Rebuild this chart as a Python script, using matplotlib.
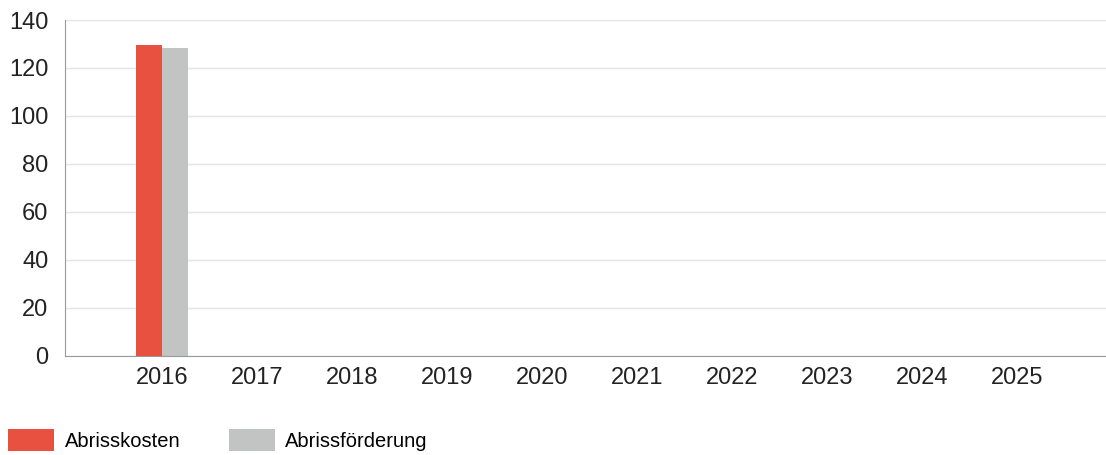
import matplotlib.pyplot as plt
import numpy as np
from matplotlib.patches import Patch

plt.rcParams['font.family'] = ['Liberation Sans', 'DejaVu Sans']

# Daten
jahre = ['2016', '2017', '2018', '2019', '2020', '2021', '2022', '2023', '2024', '2025']
abrisskosten = [129.5, 0, 0, 0, 0, 0, 0, 0, 0, 0]
abrissfoerderung = [128.5, 0, 0, 0, 0, 0, 0, 0, 0, 0]

rot = '#e8503f'
grau = '#c2c4c4'

fig = plt.figure(figsize=(11.06, 4.55), dpi=100)
ax = fig.add_axes([0.059, 0.218, 0.941, 0.738])

x = np.arange(len(jahre))
w = 0.27
ax.bar(x - w / 2, abrisskosten, w, color=rot, edgecolor='none')
ax.bar(x + w / 2, abrissfoerderung, w, color=grau, edgecolor='none')

ax.set_xlim(-1.02, 9.94)
ax.set_ylim(0, 140)
ax.set_yticks(range(0, 141, 20))
ax.set_xticks(x)
ax.set_xticklabels(jahre)
ax.tick_params(length=0, labelsize=17, colors='#222222')
ax.tick_params(axis='y', pad=12)
ax.tick_params(axis='x', pad=8)

ax.grid(axis='y', color='#e4e4e4', linewidth=1)
ax.set_axisbelow(True)
for s in ['top', 'right']:
    ax.spines[s].set_visible(False)
for s in ['left', 'bottom']:
    ax.spines[s].set_color('#9a9a9a')

handles = [Patch(facecolor=rot, label='Abrisskosten'),
           Patch(facecolor=grau, label='Abrissförderung')]
fig.legend(handles=handles, loc='lower left', bbox_to_anchor=(-0.009, -0.032),
           ncol=2, frameon=False, fontsize=14.5, handlelength=2.3,
           handleheight=1.3, handletextpad=0.5, columnspacing=2.4)

fig.savefig('out.png', dpi=100)
